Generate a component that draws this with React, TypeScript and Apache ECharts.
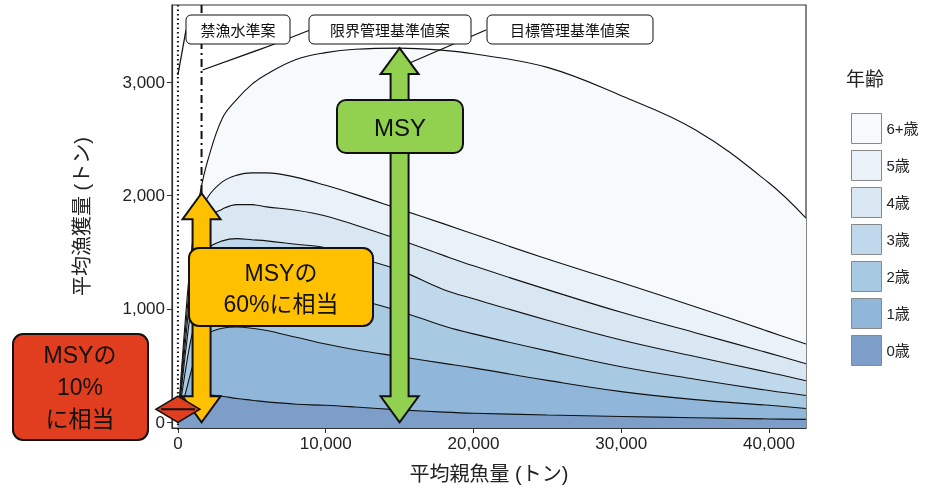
import React, { useRef, useEffect } from 'react';
import * as echarts from 'echarts';

const ssb = [0, 500, 1000, 1500, 2000, 3000, 4000, 5000, 6000, 8000, 10000, 12000, 15000, 18000, 20000, 25000, 30000, 35000, 40000, 42500];
// cumulative catch (top of each age band)
const age6 = [0, 900, 1600, 2020, 2300, 2680, 2850, 2980, 3070, 3200, 3260, 3290, 3300, 3280, 3250, 3130, 2880, 2580, 2110, 1800];
const age5 = [0, 800, 1450, 1800, 1980, 2120, 2180, 2200, 2200, 2160, 2090, 2010, 1880, 1750, 1660, 1440, 1233, 1020, 800, 690];
const age4 = [0, 700, 1300, 1640, 1800, 1880, 1920, 1920, 1900, 1870, 1820, 1740, 1610, 1470, 1380, 1170, 970, 790, 610, 516];
const age3 = [0, 600, 1100, 1400, 1530, 1600, 1620, 1610, 1600, 1570, 1540, 1460, 1340, 1170, 1090, 900, 726, 580, 440, 367];
const age2 = [0, 450, 800, 1000, 1100, 1200, 1220, 1220, 1210, 1180, 1150, 1090, 980, 850, 780, 630, 490, 380, 280, 236];
const age1 = [0, 250, 500, 700, 780, 830, 840, 830, 810, 750, 690, 640, 580, 520, 480, 370, 271, 200, 150, 122];
const age0 = [0, 150, 230, 250, 245, 230, 210, 195, 180, 160, 150, 135, 110, 90, 80, 65, 52, 40, 30, 26];

const ages = ['6+歳', '5歳', '4歳', '3歳', '2歳', '1歳', '0歳'];
const bands = [age6, age5, age4, age3, age2, age1, age0];
const colors = ['#f7fafd', '#eaf2f9', '#d9e7f3', '#c0d8eb', '#a8c9e2', '#90b7d9', '#7c9ec8'];

const msy = 3300;
const msySSB = 15000;
const limitSSB = 1600;
const banSSB = 0;
const xTicks = [0, 10000, 20000, 30000, 40000];
const yTicks = [0, 1000, 2000, 3000];

const FONT = '"Liberation Sans", "Noto Sans CJK JP", sans-serif';

function arrowPts(x: number, y1: number, y2: number, shaft: number, head: number, headLen: number) {
  // vertical double arrow from y1 (bottom) to y2 (top) in pixels
  const s = shaft / 2, h = head / 2;
  return [
    [x, y2], [x + h, y2 + headLen], [x + s, y2 + headLen], [x + s, y1 - headLen], [x + h, y1 - headLen],
    [x, y1], [x - h, y1 - headLen], [x - s, y1 - headLen], [x - s, y2 + headLen], [x - h, y2 + headLen],
  ];
}

const App = () => {
  const chartRef = useRef(null);

  useEffect(() => {
    const chart = echarts.init(chartRef.current, null, { renderer: 'svg' });
    const fmt = (v: number) => v.toLocaleString('en-US');
    const axisCommon = {
      splitLine: { show: false },
      axisLine: { show: true, onZero: false, lineStyle: { color: '#333', width: 1.2 } },
    };
    chart.setOption({
      animation: false,
      textStyle: { fontFamily: FONT },
      grid: { left: 172, right: 133, top: 5, bottom: 57, show: true, borderColor: '#333', borderWidth: 1.2, backgroundColor: '#fff' },
      legend: {
        data: ages, orient: 'vertical', left: 846, top: 108, itemWidth: 30, itemHeight: 30, itemGap: 6,
        icon: 'rect', textStyle: { fontSize: 15, color: '#222', fontFamily: FONT },
        itemStyle: { borderColor: '#888', borderWidth: 1 },
      },
      xAxis: {
        type: 'value', min: -400, max: 42500, name: '平均親魚量 (トン)', nameLocation: 'middle', nameGap: 36,
        nameTextStyle: { fontSize: 20, color: '#222', fontFamily: FONT },
        ...axisCommon,
        axisTick: { show: true, length: 5, lineStyle: { color: '#333' }, customValues: xTicks },
        axisLabel: { fontSize: 17, color: '#222', formatter: fmt, customValues: xTicks, margin: 7, showMinLabel: true },
      },
      yAxis: {
        type: 'value', min: -50, max: 3680, name: '平均漁獲量 (トン)', nameLocation: 'middle', nameGap: 80,
        nameTextStyle: { fontSize: 20, color: '#222', fontFamily: FONT },
        ...axisCommon,
        axisTick: { show: true, length: 5, lineStyle: { color: '#333' }, customValues: yTicks },
        axisLabel: { fontSize: 17, color: '#222', formatter: fmt, customValues: yTicks, margin: 7, showMinLabel: true },
      },
      series: ages.map((a, i) => ({
        name: a, type: 'line', smooth: 0.4, symbol: 'none',
        data: ssb.map((x, j) => [x, bands[i][j]]),
        lineStyle: { color: '#111', width: 1.1 },
        itemStyle: { color: colors[i] },
        areaStyle: { color: colors[i], opacity: 1, origin: 'start' },
        z: 2 + i,
      })),
    });

    const px = (x: number, y: number) => chart.convertToPixel({ gridIndex: 0 }, [x, y]) as number[];
    const [x0, yBase] = px(0, 0);
    const [xLim, yLimTop] = px(limitSSB, age6[3]);
    const [xMsy, yMsyTop] = px(msySSB, msy);
    const [xBan] = px(banSSB, 0);
    const topY = 5, botY = 432;
    const [, y10] = px(0, msy * 0.07);

    const box = (x: number, y: number, w: number, h: number, fill: string, r: number, lw: number) => ({
      type: 'rect', shape: { x, y, width: w, height: h, r }, style: { fill, stroke: '#111', lineWidth: lw }, z: 50,
    });
    const txt = (x: number, y: number, text: string, size: number, lh?: number) => ({
      type: 'text', x, y, style: { text, fontSize: size, fontFamily: FONT, fill: '#111', align: 'center', verticalAlign: 'middle', lineHeight: lh || size * 1.2 }, z: 60,
    });
    const yMid = (yBase + y10) / 2;

    chart.setOption({
      graphic: [
        { type: 'line', shape: { x1: xBan, y1: topY, x2: xBan, y2: botY }, style: { stroke: '#111', lineWidth: 2, lineDash: [1.5, 3] }, z: 40 },
        { type: 'line', shape: { x1: xLim, y1: topY, x2: xLim, y2: yLimTop }, style: { stroke: '#111', lineWidth: 2, lineDash: [8, 4, 2, 4] }, z: 40 },
        // label leader lines
        { type: 'polyline', shape: { points: [[xBan, 75], [186, 30]] }, style: { stroke: '#111', lineWidth: 1.3, fill: 'none' }, z: 40 },
        { type: 'polyline', shape: { points: [[xLim + 1, 70], [272, 45], [310, 30]] }, style: { stroke: '#111', lineWidth: 1.3, fill: 'none' }, z: 40 },
        { type: 'polyline', shape: { points: [[xMsy + 10, 63], [486, 30]] }, style: { stroke: '#111', lineWidth: 1.3, fill: 'none' }, z: 40 },
        box(186, 15, 104, 29, '#fff', 5, 1), txt(238, 30, '禁漁水準案', 15),
        box(309, 15, 162, 29, '#fff', 5, 1), txt(390, 30, '限界管理基準値案', 15),
        box(487, 15, 166, 29, '#fff', 5, 1), txt(570, 30, '目標管理基準値案', 15),
        // arrows
        { type: 'polygon', shape: { points: arrowPts(xMsy, yBase, yMsyTop, 18, 38, 26) }, style: { fill: '#92d050', stroke: '#111', lineWidth: 2 }, z: 45 },
        { type: 'polygon', shape: { points: arrowPts(xLim, yBase, yLimTop, 18, 38, 26) }, style: { fill: '#ffc000', stroke: '#111', lineWidth: 2 }, z: 45 },
        { type: 'polygon', shape: { points: [[x0, y10], [x0 + 22, yMid], [x0, yBase], [x0 - 22, yMid]] }, style: { fill: '#e03e1e', stroke: '#111', lineWidth: 1.5 }, z: 45 },
        { type: 'line', shape: { x1: x0 - 17, y1: yMid, x2: x0 + 17, y2: yMid }, style: { stroke: '#111', lineWidth: 2 }, z: 46 },
        box(337, 100, 126, 53, '#92d050', 9, 2), txt(400, 127, 'MSY', 24),
        box(189, 248, 184, 78, '#ffc000', 10, 2), txt(281, 288, 'MSYの\n60%に相当', 23, 31),
        box(13, 334, 135, 106, '#e03e1e', 10, 2), txt(80, 387, 'MSYの\n10%\nに相当', 23, 32),
        { type: 'text', left: 846, top: 70, style: { text: '年齢', fontSize: 19, fontFamily: FONT, fill: '#222' } },
      ],
    });

    return () => chart.dispose();
  }, []);

  return <div ref={chartRef} style={{ position: 'fixed', left: 0, top: 0, width: '939px', height: '489px' }} />;
};

export default App;
